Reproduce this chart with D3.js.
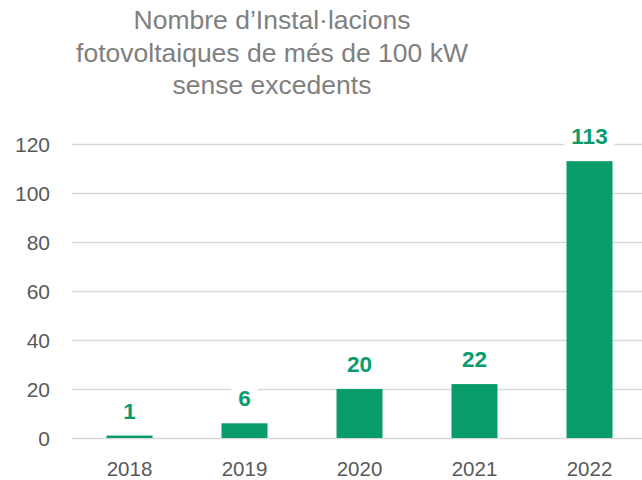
<!DOCTYPE html>
<html>
<head>
<meta charset="utf-8">
<script src="https://cdn.jsdelivr.net/npm/d3@7"></script>
<style>
  body { margin: 0; background: #fff; }
  svg { display: block; font-family: "Liberation Sans", Arial, sans-serif; }
</style>
</head>
<body>
<div id="chart"></div>
<script>
var years = ["2018", "2019", "2020", "2021", "2022"];
var installs = [1, 6, 20, 22, 113];
var yTicks = [0, 20, 40, 60, 80, 100, 120];
var titleLines = ["Nombre d\u2019Instal\u00b7lacions", "fotovoltaiques de m\u00e9s de 100 kW", "sense excedents"];

var width = 642, height = 480;
var green = "#089c6c";

var svg = d3.select("#chart")
  .append("svg")
  .attr("width", width)
  .attr("height", height);

var x = d3.scaleBand()
  .domain(years)
  .range([72, 647])
  .paddingInner(0.6)
  .paddingOuter(0.3);

var y = d3.scaleLinear()
  .domain([0, 120])
  .range([438, 144]);

// title
svg.append("g").selectAll("text")
  .data(titleLines)
  .join("text")
  .attr("x", 272)
  .attr("y", function(d, i) { return 29 + i * 32.5; })
  .style("font-size", "26.5px")
  .style("text-anchor", "middle")
  .style("fill", "#808080")
  .text(function(d) { return d; });

// grid lines
var yAxis = d3.axisLeft(y)
  .tickValues(yTicks)
  .tickSize(-(width - 72))
  .tickPadding(22);

var gy = svg.append("g")
  .attr("transform", "translate(72,0)")
  .call(yAxis);
gy.select(".domain").remove();
gy.selectAll(".tick line")
  .attr("stroke", "#d9d9d9")
  .attr("stroke-width", 1.5);
gy.selectAll(".tick text")
  .style("font-size", "21px")
  .style("fill", "#595959")
  .attr("dy", "0.35em");

// bars
svg.append("g").selectAll("rect")
  .data(installs)
  .join("rect")
  .attr("x", function(d, i) { return x(years[i]); })
  .attr("y", function(d) { return y(d); })
  .attr("width", x.bandwidth())
  .attr("height", function(d) { return y(0) - y(d); })
  .style("fill", green);

// value labels with white boxes
var labels = svg.append("g").selectAll("g")
  .data(installs)
  .join("g")
  .attr("transform", function(d, i) {
    return "translate(" + (x(years[i]) + x.bandwidth() / 2) + "," + (y(d) - 17) + ")";
  });

labels.append("text")
  .style("font-size", "22.5px")
  .style("font-weight", "bold")
  .style("text-anchor", "middle")
  .style("fill", green)
  .text(function(d) { return d; });

labels.each(function() {
  var g = d3.select(this);
  var bb = g.select("text").node().getBBox();
  g.insert("rect", "text")
    .attr("x", bb.x - 7)
    .attr("y", bb.y - 3)
    .attr("width", bb.width + 14)
    .attr("height", bb.height + 6)
    .style("fill", "white");
});

// x axis labels
var xAxis = d3.axisBottom(x).tickSize(0).tickPadding(0);
var gx = svg.append("g")
  .attr("transform", "translate(0,438)")
  .call(xAxis);
gx.select(".domain").remove();
gx.selectAll(".tick text")
  .attr("y", 38)
  .attr("dy", 0)
  .style("font-size", "20.5px")
  .style("fill", "#595959");
</script>
</body>
</html>
